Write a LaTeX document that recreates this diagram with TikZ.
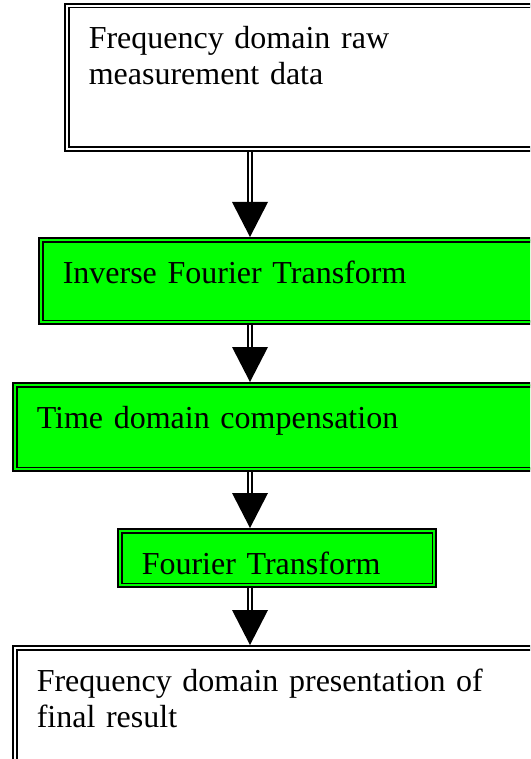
\documentclass[tikz,border=0pt]{standalone}
\usepackage{fontspec}
\setmainfont{Liberation Serif}
\usetikzlibrary{positioning}
\definecolor{BoxGreen}{RGB}{0,255,0}
\begin{document}
\begin{tikzpicture}[x=1pt,y=-1pt,
  box/.style={draw,line width=1.7pt,double=white,double distance=2.1pt,outer sep=2.75pt,
    anchor=north west,inner xsep=22pt,inner ysep=0pt,text height=43.25pt,align=left,
    font=\fontsize{32}{36}\selectfont},
  greenbox/.style={box,fill=BoxGreen,double=BoxGreen},
  shaft/.style={draw,line width=1.4pt,double=white,double distance=2.6pt,shorten >=34pt}]
\useasboundingbox (0,0) rectangle (530,759);
\clip (0,0) rectangle (530,759);
% processing steps, top to bottom
\node[box,text width=446.5pt,text depth=100.25pt] (raw) at (64,3) {Frequency domain raw\\measurement data};
\node[greenbox,text width=472.5pt,text depth=39.25pt] (ift) at (38,237) {Inverse Fourier Transform};
\node[greenbox,text width=498.5pt,text depth=41.25pt] (tdc) at (12,382) {Time domain compensation};
\node[greenbox,text width=270.5pt,text depth=11.25pt] (ft) at (117,528) {Fourier Transform};
\node[box,text width=498.5pt,text depth=96.25pt] (res) at (12,645) {Frequency domain presentation of\\final result};
% flow arrows
\coordinate (col) at (250,0);
\foreach \a/\b in {raw/ift,ift/tdc,tdc/ft,ft/res}{
  \draw[shaft] (\a.south -| col) -- (\b.north -| col);
  \fill (\b.north -| col) -- ++(-18,-35) -- ++(36,0) -- cycle;
}
\end{tikzpicture}
\end{document}
